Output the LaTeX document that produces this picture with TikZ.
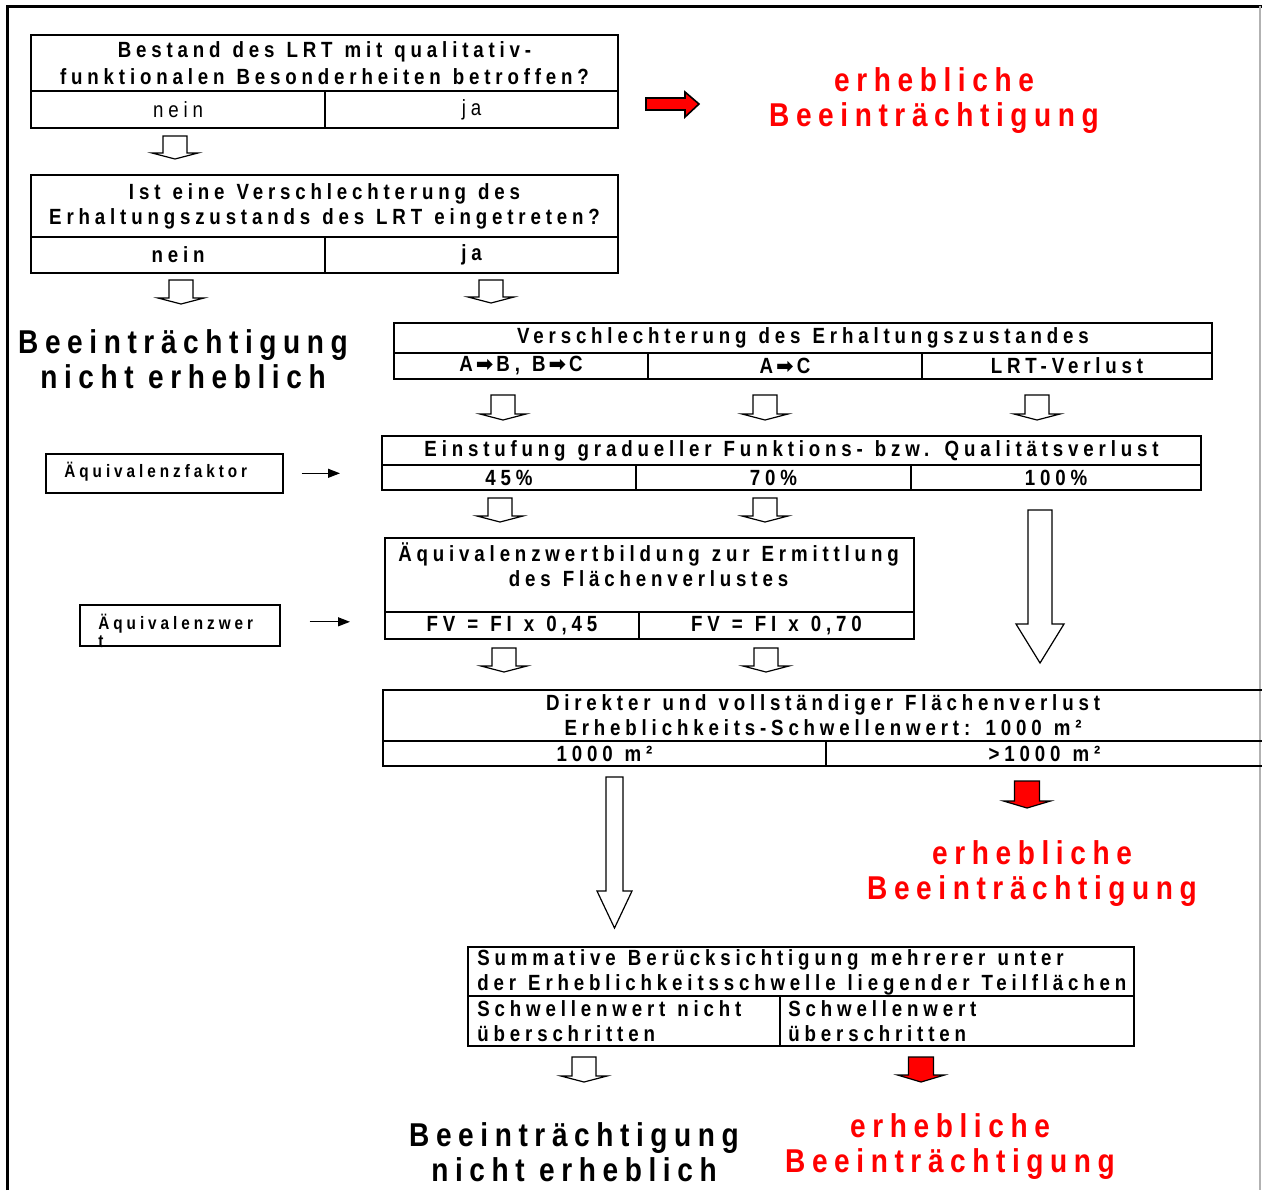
\documentclass[tikz,border=0pt]{standalone}
\usepackage{fontspec}
\setmainfont{Liberation Sans}[FakeStretch=0.85,LetterSpace=22,WordSpace={1.2,1,0}]
\newfontfamily\bigfont{Liberation Sans}[FakeStretch=0.85,LetterSpace=20,WordSpace={1.0,1,0}]
\newfontfamily\symfont{DejaVu Sans}
\usetikzlibrary{arrows.meta}

% hollow / filled block arrow pointing down: x, y top, y tip, half shaft, half head, head length
\newcommand{\blockdown}[7][fill=white]{%
  \draw[line width=0.6pt,#1] (#2-#5,#3) -- (#2+#5,#3) -- (#2+#5,#4-#7) -- (#2+#6,#4-#7)
    -- (#2,#4) -- (#2-#6,#4-#7) -- (#2-#5,#4-#7) -- cycle;}
\newcommand{\thick}{\hspace{1.5pt}{\symfont\fontsize{10.5}{10}\selectfont ➡}\hspace{1.5pt}}

\begin{document}
\begin{tikzpicture}[x=0.5pt,y=-0.5pt,
 txt/.style={inner sep=0pt,align=center,font=\fontsize{11}{12.5}\selectfont\bfseries},
 cell/.style={txt,draw,line width=1pt,anchor=north west},
 ltxt/.style={txt,align=left,anchor=west},
 sz/.style 2 args={minimum width=#1*0.5pt,minimum height=#2*0.5pt},
 big/.style={align=center,inner sep=0pt,font=\bigfont\fontsize{16.5}{17.5}\selectfont\bfseries},
 hot/.style={big,text=red},
 side/.style={draw,line width=0.8pt,inner sep=0pt,anchor=north west},
 sidetxt/.style={inner sep=0pt,align=left,font=\fontsize{9}{9}\selectfont\bfseries},
 ptr/.style={-{Triangle[length=6pt,width=4.5pt]},line width=0.6pt}]
\useasboundingbox (0,0) rectangle (1262,1190);
\draw[line width=1.5pt] (7,1190) -- (7,6) -- (1262,6);
\draw[black!30,line width=1pt] (1260,6) -- (1260,1190);

% first question
\node[cell,sz={587}{56},font=\fontsize{11}{13.5}\selectfont\bfseries] (q1) at (30,34)
 {Bestand des LRT mit qualitativ-\\funktionalen Besonderheiten betroffen?};
\node[cell,sz={294}{37},font=\fontsize{11}{12.5}\selectfont] (q1n) at (30,90) {nein};
\node[cell,sz={293}{37},font=\fontsize{11}{12.5}\selectfont] (q1j) at (324,90) {ja};
\draw[fill=red,line width=0.8pt] (646,98) -- (685,98) -- (685,92) -- (699,104)
 -- (685,117) -- (685,110) -- (646,110) -- cycle;
\node[hot] (erh1) at (934,101) {erhebliche\\Beeinträchtigung};
\blockdown{175}{136}{159}{12}{23}{6}

% second question
\node[cell,sz={587}{62}] (q2) at (30,174)
 {Ist eine Verschlechterung des\\Erhaltungszustands des LRT eingetreten?};
\node[cell,sz={294}{36}] (q2n) at (30,236) {nein};
\node[cell,sz={293}{36}] (q2j) at (324,236) {ja};
\blockdown{181}{280}{304}{12}{23}{6}
\blockdown{491}{280}{303}{12}{23}{6}
\node[big] (nerh1) at (183,359) {Beeinträchtigung\\nicht erheblich};

% Verschlechterung
\node[cell,sz={818}{30}] (vs) at (393,322) {Verschlechterung des Erhaltungszustandes};
\node[cell,sz={254}{26}] (vs1) at (393,352) {A\thick B, B\thick C};
\node[cell,sz={274}{26}] (vs2) at (647,352) {A\thick C};
\node[cell,sz={290}{26}] (vs3) at (921,352) {LRT-Verlust};
\blockdown{503}{395}{420}{12}{23}{6}
\blockdown{765}{395}{420}{12}{23}{6}
\blockdown{1037}{395}{420}{12}{23}{6}

% Einstufung
\node[side,sz={237}{39}] (aqf) at (45,453) {};
\node[sidetxt,anchor=west] (aqft) at (64,472) {Äquivalenzfaktor};
\node[cell,sz={819}{29}] (ef) at (381,435) {Einstufung gradueller Funktions- bzw. Qualitätsverlust};
\node[cell,sz={254}{25}] (ef1) at (381,464) {45\%};
\node[cell,sz={275}{25}] (ef2) at (635,464) {70\%};
\node[cell,sz={290}{25}] (ef3) at (910,464) {100\%};
\draw[ptr] ([xshift=9pt]aqf.east) -- ([xshift=-20.5pt]aqf.east -| ef1.west);
\blockdown{500}{498}{522}{12}{23}{6}
\blockdown{765}{498}{522}{12}{23}{6}
\blockdown{1040}{510}{663}{12}{24}{39}

% Aequivalenzwert
\node[side,sz={200}{41}] (aqw) at (79,604) {};
\node[sidetxt,anchor=north west] (aqwt) at (98,614) {Äquivalenzwer\\t};
\node[cell,sz={529}{74}] (aw) at (384,537) {};
\node[txt] (awt) at (648.5,565) {Äquivalenzwertbildung zur Ermittlung\\des Flächenverlustes};
\node[cell,sz={254}{27}] (aw1) at (384,611) {FV = FI x 0,45};
\node[cell,sz={275}{27}] (aw2) at (638,611) {FV = FI x 0,70};
\draw[ptr] ([xshift=14.5pt,yshift=1.75pt]aqw.east) -- ([xshift=-17pt,yshift=1.75pt]aqw.east -| aw1.west);
\blockdown{504}{648}{672}{12}{23}{6}
\blockdown{766}{648}{672}{12}{23}{6}

% Flaechenverlust
\node[cell,sz={880}{51}] (dv) at (382,689)
 {Direkter und vollständiger Flächenverlust\\Erheblichkeits-Schwellenwert: 1000 m²};
\node[cell,sz={443}{25}] (dv1) at (382,740) {1000 m²};
\node[cell,sz={437}{25}] (dv2) at (825,740) {>1000 m²};
\blockdown{614.5}{777}{928}{8.5}{17.5}{37}
\blockdown[fill=red]{1027}{781}{808}{12.5}{23.5}{7}
\node[hot] (erh2) at (1032,873.5) {erhebliche\\Beeinträchtigung};

% Summation
\node[cell,sz={666}{49}] (sb) at (467,946) {};
\node[ltxt] (sbt) at (477,972)
 {Summative Berücksichtigung mehrerer unter\\der Erheblichkeitsschwelle liegender Teilflächen};
\node[cell,sz={312}{50}] (sb1) at (467,995) {};
\node[ltxt] (sb1t) at (477,1021.5) {Schwellenwert nicht\\überschritten};
\node[cell,sz={354}{50}] (sb2) at (779,995) {};
\node[ltxt] (sb2t) at (788,1021.5) {Schwellenwert\\überschritten};
\blockdown{584}{1057}{1082}{12}{23}{6}
\blockdown[fill=red]{921}{1057}{1082}{12.5}{23.5}{7}
\node[big] (nerh2) at (574,1152) {Beeinträchtigung\\nicht erheblich};
\node[hot] (erh3) at (950,1147) {erhebliche\\Beeinträchtigung};
\end{tikzpicture}
\end{document}
